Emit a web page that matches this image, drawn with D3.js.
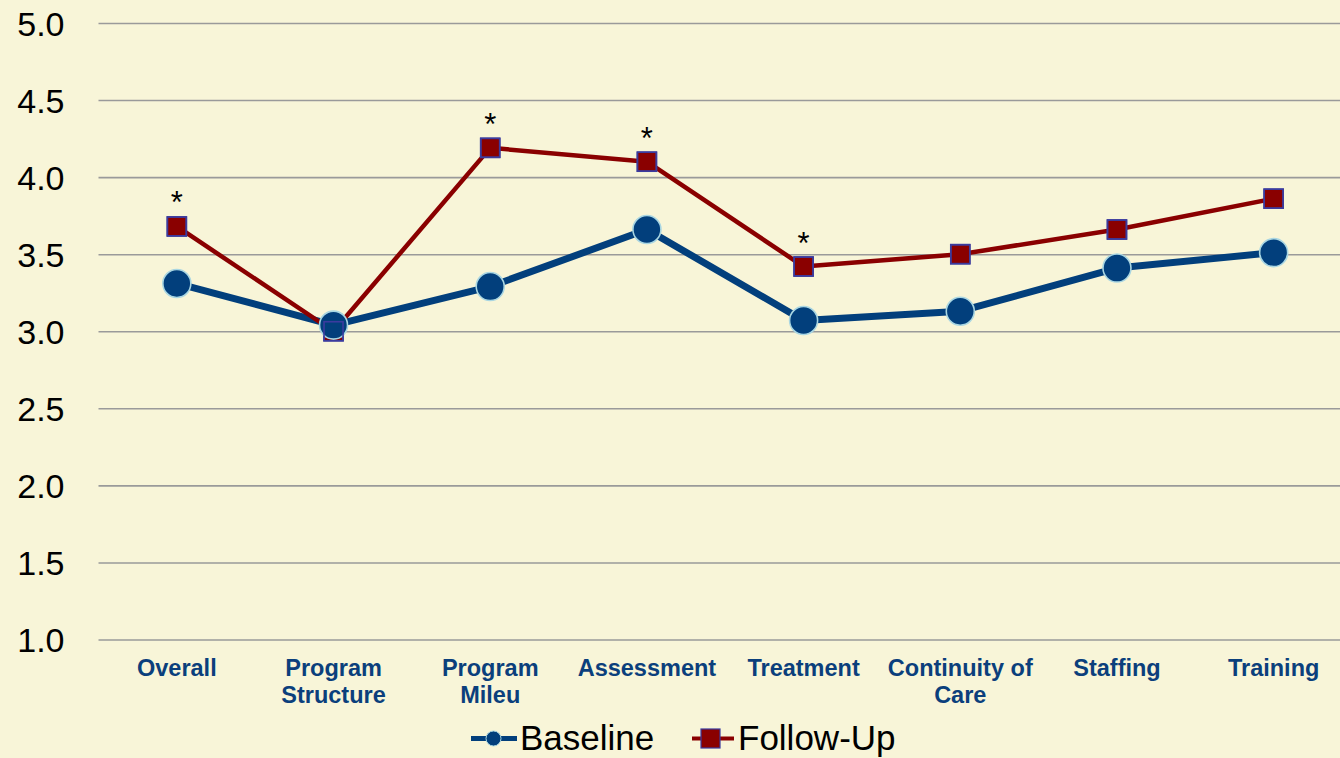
<!DOCTYPE html>
<html>
<head>
<meta charset="utf-8">
<script src="https://cdn.jsdelivr.net/npm/d3@7"></script>
<style>
  html, body { margin: 0; padding: 0; background: #f8f5d8; }
  svg { display: block; }
</style>
</head>
<body>
<svg id="chart" width="1340" height="758"></svg>
<script>
// Domain scores by category, baseline vs follow-up
const categories = ["Overall", "Program Structure", "Program Mileu", "Assessment",
  "Treatment", "Continuity of Care", "Staffing", "Training"];
const categoryLines = [["Overall"], ["Program", "Structure"], ["Program", "Mileu"], ["Assessment"],
  ["Treatment"], ["Continuity of", "Care"], ["Staffing"], ["Training"]];
const baseline = [3.31, 3.04, 3.29, 3.66, 3.07, 3.13, 3.41, 3.51];
const followUp = [3.68, 3.00, 4.19, 4.10, 3.42, 3.50, 3.66, 3.86];
// Categories where the change was significant
const significant = ["Overall", "Program Mileu", "Assessment", "Treatment"];
const yTicks = [1.0, 1.5, 2.0, 2.5, 3.0, 3.5, 4.0, 4.5, 5.0];

const svg = d3.select("#chart");
const W = 1340, H = 758;
const plot = { left: 98.5, right: 1352, top: 23, bottom: 639.5 };

const x = d3.scaleBand().domain(categories).range([plot.left, plot.right]).padding(0);
const cx = c => x(c) + x.bandwidth() / 2;
const y = d3.scaleLinear().domain([1, 5]).range([plot.bottom, plot.top]);

const BLUE = "#023f7c", RED = "#8a0000";

svg.append("rect").attr("width", W).attr("height", H).attr("fill", "#f8f5d8");

// Horizontal gridlines and y labels
const yAxis = d3.axisLeft(y).tickValues(yTicks).tickFormat(d3.format(".1f"))
  .tickSize(-(plot.right - plot.left)).tickPadding(34);
const gy = svg.append("g").attr("transform", `translate(${plot.left},0)`).call(yAxis);
gy.select(".domain").remove();
gy.selectAll(".tick line").attr("stroke", "#9a9a9a").attr("stroke-width", 1.6);
gy.selectAll(".tick text")
  .attr("font-family", "Liberation Sans, Arial, sans-serif")
  .attr("font-size", 34).attr("fill", "#000").attr("dy", "0.36em");

// Category labels
const gx = svg.append("g");
categories.forEach((c, i) => {
  const t = gx.append("text")
    .attr("x", cx(c)).attr("y", 676)
    .attr("text-anchor", "middle")
    .attr("font-family", "Liberation Sans, Arial, sans-serif")
    .attr("font-weight", "bold").attr("font-size", 23.5)
    .attr("fill", "#0b3f7c");
  categoryLines[i].forEach((ln, j) => {
    t.append("tspan").attr("x", cx(c)).attr("dy", j === 0 ? 0 : 27).text(ln);
  });
});

const line = d3.line().x((d, i) => cx(categories[i])).y(d => y(d));

// Series lines
svg.append("path").datum(baseline).attr("d", line)
  .attr("fill", "none").attr("stroke", BLUE).attr("stroke-width", 7).attr("stroke-linejoin", "round");
svg.append("path").datum(followUp).attr("d", line)
  .attr("fill", "none").attr("stroke", RED).attr("stroke-width", 4.5).attr("stroke-linejoin", "round");

// Follow-up square markers
const SQ = 19;
svg.append("g").selectAll("rect").data(followUp).join("rect")
  .attr("x", (d, i) => cx(categories[i]) - SQ / 2)
  .attr("y", d => y(d) - SQ / 2)
  .attr("width", SQ).attr("height", SQ)
  .attr("fill", RED).attr("stroke", "#3b3b9e").attr("stroke-width", 1.6);

// Baseline circle markers
svg.append("g").selectAll("circle").data(baseline).join("circle")
  .attr("cx", (d, i) => cx(categories[i]))
  .attr("cy", d => y(d))
  .attr("r", 14)
  .attr("fill", BLUE).attr("stroke", "#a9d6e2").attr("stroke-width", 1.6);

// Square outlines stay visible where markers overlap
svg.append("g").selectAll("rect").data(followUp).join("rect")
  .attr("x", (d, i) => cx(categories[i]) - SQ / 2)
  .attr("y", d => y(d) - SQ / 2)
  .attr("width", SQ).attr("height", SQ)
  .attr("fill", "none").attr("stroke", "#3b3b9e").attr("stroke-width", 1.6);

// Significance asterisks above follow-up points
svg.append("g").selectAll("text").data(significant).join("text")
  .attr("x", c => cx(c))
  .attr("y", c => y(followUp[categories.indexOf(c)]) - 13)
  .attr("text-anchor", "middle")
  .attr("font-family", "Liberation Sans, Arial, sans-serif")
  .attr("font-size", 31).attr("fill", "#000")
  .text("*");

// Legend
const lg = svg.append("g");
lg.append("line").attr("x1", 471).attr("x2", 517).attr("y1", 738.5).attr("y2", 738.5)
  .attr("stroke", BLUE).attr("stroke-width", 5);
lg.append("circle").attr("cx", 493.5).attr("cy", 738.5).attr("r", 7.5)
  .attr("fill", BLUE).attr("stroke", "#a9d6e2").attr("stroke-width", 1);
lg.append("text").attr("x", 520).attr("y", 749.5)
  .attr("font-family", "Liberation Sans, Arial, sans-serif").attr("font-size", 35)
  .attr("fill", "#000").text("Baseline");
lg.append("line").attr("x1", 692).attr("x2", 734).attr("y1", 738.5).attr("y2", 738.5)
  .attr("stroke", RED).attr("stroke-width", 4);
lg.append("rect").attr("x", 701).attr("y", 729).attr("width", 19).attr("height", 19)
  .attr("fill", RED).attr("stroke", "#3b3b9e").attr("stroke-width", 1.2);
lg.append("text").attr("x", 738).attr("y", 749.5)
  .attr("font-family", "Liberation Sans, Arial, sans-serif").attr("font-size", 35)
  .attr("fill", "#000").text("Follow-Up");
</script>
</body>
</html>
